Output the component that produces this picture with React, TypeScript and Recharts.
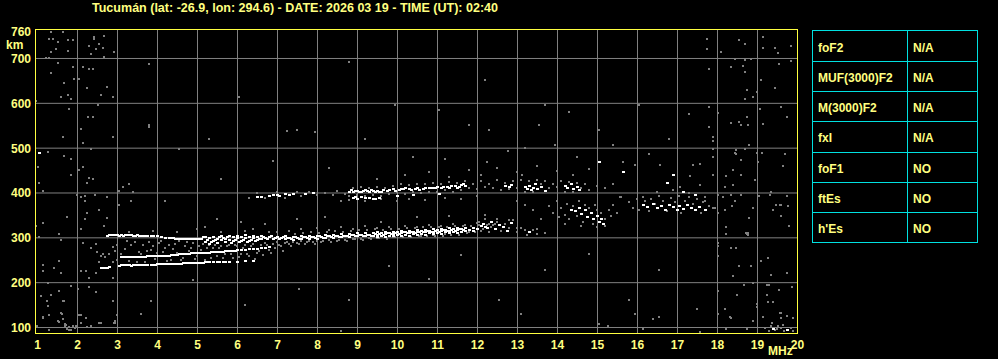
import { ScatterChart, Scatter, XAxis, YAxis, CartesianGrid } from 'recharts'

const title = 'Tucumán (lat: -26.9, lon: 294.6) - DATE: 2026 03 19 - TIME (UT): 02:40'
const freqTicks = [1, 2, 3, 4, 5, 6, 7, 8, 9, 10, 11, 12, 13, 14, 15, 16, 17, 18, 19, 20]
const gridFreqs = [2, 3, 4, 5, 6, 7, 8, 9, 10, 11, 12, 13, 14, 15, 16, 17, 18, 19]
const heightTicks = [100, 200, 300, 400, 500, 600, 700, 760]
const gridHeights = [100, 200, 300, 400, 500, 600, 700]

const paramNames = ['foF2', 'MUF(3000)F2', 'M(3000)F2', 'fxI', 'foF1', 'ftEs', "h'Es"]
const paramValues = ['N/A', 'N/A', 'N/A', 'N/A', 'NO', 'NO', 'NO']

// strong echoes (white), [MHz, km]
const lowBands: number[][] = [
  [2.6, 231], [2.65, 231], [2.7, 231], [2.75, 232], [2.8, 233], [3.05, 237], [3.1, 238], [3.15, 238], [3.2, 238],
  [3.25, 238], [3.3, 238], [3.35, 237], [3.4, 238], [3.45, 238], [3.5, 238], [3.55, 238], [3.6, 238], [3.65, 239],
  [3.7, 239], [3.75, 239], [3.85, 239], [3.9, 239], [3.95, 239], [4.0, 240], [4.05, 240], [4.1, 240], [4.15, 240],
  [4.2, 240], [4.25, 240], [4.3, 241], [4.35, 241], [4.4, 240], [4.45, 241], [4.5, 241], [4.55, 241], [4.6, 241],
  [4.65, 242], [4.7, 242], [4.75, 242], [4.8, 242], [4.85, 242], [4.9, 243], [4.95, 243], [5.0, 243], [5.05, 243],
  [5.1, 243], [5.15, 243], [5.2, 244], [5.25, 244], [5.3, 244], [5.4, 244], [5.5, 245], [5.55, 245], [5.65, 245],
  [5.7, 246], [5.8, 246], [6.0, 246], [6.2, 247], [6.4, 248],
  [3.1, 256], [3.15, 256], [3.2, 256], [3.25, 256], [3.3, 257], [3.35, 256], [3.4, 256], [3.45, 257], [3.5, 257],
  [3.55, 256], [3.6, 257], [3.65, 256], [3.7, 257], [3.75, 258], [3.8, 258], [3.85, 258], [3.9, 258], [3.95, 258],
  [4.0, 258], [4.05, 259], [4.1, 259], [4.15, 259], [4.2, 259], [4.25, 259], [4.3, 259], [4.35, 260], [4.4, 260],
  [4.45, 261], [4.5, 261], [4.55, 262], [4.6, 262], [4.65, 262], [4.7, 263], [4.75, 263], [4.8, 263], [4.85, 264],
  [4.9, 264], [4.95, 264], [5.0, 265], [5.05, 265], [5.1, 265], [5.15, 266], [5.2, 266], [5.25, 266], [5.3, 266],
  [5.35, 267], [5.4, 267], [5.45, 267], [5.5, 268], [5.55, 268], [5.6, 268], [5.65, 268], [5.7, 269], [5.75, 269],
  [5.8, 269], [5.85, 270], [5.9, 270], [5.95, 270], [6.0, 271], [6.1, 271], [6.2, 272], [6.3, 273], [6.4, 274],
  [6.5, 275], [6.6, 276], [6.7, 277], [6.8, 279],
  [2.75, 304], [2.8, 305], [2.85, 305], [2.9, 305], [2.95, 305], [3.0, 305], [3.05, 304], [3.1, 305], [3.15, 304],
  [3.2, 305], [3.25, 305], [3.3, 305], [3.35, 305], [3.4, 304], [3.45, 304], [3.5, 305], [3.55, 304], [3.6, 304],
  [3.65, 304], [3.7, 303], [3.75, 303], [3.85, 303], [3.9, 302], [4.0, 302], [4.1, 300], [4.2, 299], [4.3, 298],
  [4.35, 298], [4.4, 298], [4.45, 297], [4.5, 297], [4.55, 297], [4.6, 297], [4.65, 297], [4.7, 296], [4.75, 296],
  [4.8, 296], [4.85, 297], [4.9, 296], [4.95, 296], [5.0, 296], [5.05, 296], [5.1, 296], [5.15, 300],
  [5.2, 300], [5.2, 290], [5.25, 294], [5.3, 298], [5.3, 286], [5.35, 290], [5.4, 300], [5.4, 292], [5.45, 295],
  [5.5, 288], [5.5, 296], [5.55, 300], [5.6, 294], [5.6, 302], [5.65, 298], [5.7, 290], [5.7, 296], [5.75, 300],
  [5.8, 295], [5.8, 302], [5.85, 288], [5.9, 300], [5.9, 292], [5.95, 294], [6.0, 298], [6.0, 304], [6.05, 290],
  [6.1, 301], [6.1, 292], [6.15, 295], [6.2, 299], [6.2, 305], [6.25, 289], [6.3, 300], [6.3, 292], [6.35, 294],
  [6.4, 298], [6.4, 304], [6.45, 292], [6.5, 300], [6.5, 294], [6.55, 296], [6.6, 302], [6.6, 296], [6.65, 300],
  [6.7, 298], [6.75, 296], [6.8, 300], [6.85, 302], [6.9, 296], [6.95, 299], [7.0, 301], [7.05, 296], [7.1, 298],
  [7.15, 300],
]

const mainBand: number[][] = [
  [7.2, 296], [7.2, 302], [7.25, 299], [7.3, 298], [7.35, 297], [7.4, 294], [7.4, 301], [7.45, 300], [7.5, 299],
  [7.55, 297], [7.6, 296], [7.6, 303], [7.65, 301], [7.7, 300], [7.75, 298], [7.8, 297], [7.8, 303], [7.85, 301],
  [7.9, 300], [7.95, 299], [8.0, 297], [8.0, 304], [8.05, 302], [8.1, 301], [8.15, 299], [8.2, 298], [8.2, 305],
  [8.25, 302], [8.3, 302], [8.35, 300], [8.4, 299], [8.4, 306], [8.45, 303], [8.5, 303], [8.55, 301], [8.6, 300],
  [8.6, 307], [8.65, 304], [8.7, 304], [8.75, 302], [8.8, 301], [8.8, 308], [8.85, 305], [8.9, 305], [8.95, 303],
  [9.0, 302], [9.0, 309], [9.05, 306], [9.1, 305], [9.15, 303], [9.2, 302], [9.2, 309], [9.25, 306], [9.3, 306],
  [9.35, 304], [9.4, 303], [9.4, 310], [9.45, 307],
  [9.5, 300], [9.5, 306], [9.5, 311], [9.55, 308], [9.6, 304], [9.6, 309], [9.65, 306], [9.7, 301], [9.7, 307],
  [9.7, 312], [9.75, 309], [9.8, 304], [9.8, 310], [9.85, 307], [9.9, 302], [9.9, 308], [9.9, 313], [9.95, 310],
  [10.0, 305], [10.0, 311], [10.05, 308], [10.1, 303], [10.1, 309], [10.1, 314], [10.15, 311], [10.2, 306],
  [10.2, 312], [10.25, 309], [10.3, 304], [10.3, 310], [10.3, 315], [10.35, 312], [10.4, 307], [10.4, 313],
  [10.45, 310], [10.5, 305], [10.5, 311], [10.5, 316], [10.55, 313], [10.6, 308], [10.6, 314], [10.65, 311],
  [10.7, 306], [10.7, 312], [10.7, 317], [10.75, 314], [10.8, 309], [10.8, 315], [10.85, 312], [10.9, 307],
  [10.9, 313], [10.9, 318], [10.95, 315], [11.0, 310], [11.0, 316], [11.05, 313], [11.1, 308], [11.1, 314],
  [11.1, 319], [11.15, 316], [11.2, 311], [11.2, 317], [11.25, 314], [11.3, 309], [11.3, 315], [11.3, 320],
  [11.35, 317], [11.4, 312], [11.4, 318], [11.45, 315], [11.5, 310], [11.5, 316], [11.5, 321], [11.55, 318],
  [11.6, 313], [11.6, 319], [11.65, 316], [11.7, 314], [11.7, 320], [11.8, 317], [11.9, 315], [11.9, 321],
  [12.0, 319], [12.2, 322],
]

const upperTrace: number[][] = [
  [6.5, 390], [6.6, 390], [6.8, 393], [6.9, 395], [7.0, 394], [7.05, 392], [7.2, 396], [7.3, 395], [7.4, 397],
  [7.7, 397], [7.9, 398],
  [8.8, 402], [8.85, 405], [8.9, 401], [8.95, 403], [9.0, 404], [9.05, 400], [9.1, 401], [9.15, 403], [9.2, 406],
  [9.25, 404], [9.3, 402], [9.35, 405], [9.4, 403], [9.45, 401], [9.5, 404], [9.55, 402], [9.6, 400], [9.65, 405],
  [8.9, 388], [8.95, 390], [9.0, 386], [9.1, 389], [9.2, 388], [9.3, 387], [9.4, 385], [9.45, 386], [9.55, 388],
  [9.75, 404], [9.8, 406], [9.9, 407], [9.95, 404], [10.05, 405], [10.1, 407], [10.15, 408], [10.2, 409],
  [10.3, 407], [10.35, 405], [10.45, 408], [10.5, 410], [10.55, 406], [10.65, 408], [10.7, 410], [10.8, 411],
  [10.85, 409], [10.9, 409], [10.95, 411], [11.0, 412], [11.1, 410], [11.15, 412], [11.25, 413], [11.3, 411],
  [11.35, 415], [11.45, 414], [11.5, 411], [11.55, 413], [11.6, 416], [11.65, 418], [11.7, 415],
  [10.0, 392], [10.4, 395], [11.05, 396],
  [12.7, 415], [12.8, 413], [12.85, 417], [13.2, 412], [13.25, 408], [13.3, 415], [13.35, 405], [13.4, 410],
  [13.45, 420], [13.5, 407], [13.6, 413], [13.7, 404], [14.2, 415], [14.25, 410], [14.35, 418], [14.4, 408],
  [14.5, 413], [14.55, 405],
]

const strongClusters: number[][] = [
  [14.35, 362], [14.45, 358], [14.55, 366], [14.6, 352], [14.7, 360], [14.75, 345], [14.85, 355], [14.9, 340],
  [15.0, 348], [15.05, 335], [15.1, 342], [15.15, 330],
  [16.15, 372], [16.25, 368], [16.4, 375], [16.5, 365], [16.6, 370], [16.7, 362], [16.8, 372], [16.9, 367],
  [17.0, 360], [17.05, 370], [17.15, 364], [17.25, 372], [17.35, 366], [17.45, 360], [17.55, 368], [17.7, 362],
  [12.1, 325], [12.15, 330], [12.25, 320], [12.35, 335], [12.45, 318], [12.55, 328], [12.65, 322], [12.75, 315],
  [12.85, 332], [13.3, 312],
  [1.05, 487], [15.05, 469], [15.65, 445], [16.9, 440], [17.15, 402], [17.45, 395], [16.75, 422], [17.7, 360],
  [19.75, 93], [19.4, 95],
]

// weak echoes (grey)
const weakEchoes: number[][] = [
  [2.5, 268], [2.65, 262], [2.9, 246], [2.95, 270], [3.0, 283], [3.2, 275], [3.3, 248], [3.45, 290], [3.55, 268],
  [3.7, 246], [3.8, 290], [3.85, 272], [3.95, 252], [4.1, 292], [4.15, 268], [4.25, 248], [4.3, 282], [4.4, 275],
  [4.55, 292], [4.6, 250], [4.7, 280], [4.8, 270], [4.9, 288], [4.95, 252], [5.05, 280], [5.1, 272], [5.2, 250],
  [5.3, 282], [5.4, 276], [5.5, 258], [5.6, 280], [5.7, 262], [5.8, 283], [5.9, 255], [6.0, 280], [6.1, 262],
  [6.2, 283], [6.3, 258], [6.4, 285], [6.5, 265], [6.6, 282], [6.7, 288], [6.8, 272], [6.9, 285], [7.0, 290],
  [7.1, 280], [7.2, 288], [7.3, 285], [7.4, 290], [7.5, 288], [7.6, 291], [7.7, 285], [7.8, 292], [7.9, 289],
  [8.0, 292], [8.1, 289], [8.3, 293], [8.5, 292], [8.7, 295], [8.9, 296], [9.1, 297], [9.3, 298], [9.5, 299],
  [9.7, 300], [9.9, 300], [10.1, 302], [10.3, 303], [10.6, 304], [10.9, 305], [11.2, 307], [11.5, 309],
  [11.8, 312], [12.1, 315],
  [2.55, 244], [2.7, 256], [2.8, 262], [3.0, 250], [3.1, 262], [3.25, 292], [3.35, 282], [3.5, 246], [3.6, 262],
  [3.65, 284], [3.75, 270], [3.9, 280], [4.0, 264], [4.05, 288], [4.2, 276], [4.35, 250], [4.45, 286], [4.5, 266],
  [4.65, 254], [4.75, 290], [4.85, 276], [5.0, 258], [5.15, 286], [5.25, 276], [5.35, 254], [5.45, 284],
  [5.55, 276], [5.65, 254], [5.75, 280], [5.85, 262], [5.95, 284], [6.05, 257], [6.15, 276], [6.25, 262],
  [6.35, 280], [6.45, 252], [6.55, 270], [6.65, 260], [6.75, 284], [6.85, 266], [6.95, 276], [7.05, 284],
  [7.15, 270], [7.25, 290], [7.35, 280], [7.45, 308], [7.55, 286], [7.65, 310], [7.75, 290], [7.85, 312],
  [7.95, 286], [8.05, 310], [8.15, 292], [8.25, 312], [8.35, 290], [8.45, 314], [8.55, 294], [8.65, 312],
  [8.75, 292], [8.85, 315], [8.95, 296], [9.05, 316], [9.15, 294], [9.25, 317], [9.35, 296], [9.45, 318],
  [9.55, 298], [9.65, 316], [9.75, 296], [9.85, 318], [9.95, 300], [10.05, 318], [10.15, 300], [10.25, 320],
  [10.35, 300], [10.45, 321], [10.55, 302], [10.65, 322], [10.75, 302], [10.85, 322], [10.95, 304], [11.05, 323],
  [11.15, 304], [11.25, 324], [11.35, 306], [11.45, 325], [11.55, 306], [11.65, 326], [11.75, 310], [11.85, 326],
  [11.95, 312], [12.05, 327], [12.15, 318], [12.25, 327], [12.35, 322], [12.45, 330],
  [3.3, 312], [3.9, 315], [4.5, 312], [5.0, 318], [5.6, 312], [6.2, 315], [6.8, 312],
  [7.0, 312], [7.3, 315], [7.6, 318], [8.0, 320], [8.3, 316], [8.6, 322], [8.9, 318], [9.2, 325], [9.5, 320],
  [9.8, 322], [10.2, 325], [10.5, 323], [10.8, 328], [11.1, 326], [11.4, 330], [11.7, 328], [12.0, 333],
  [12.3, 330], [12.5, 335], [12.8, 338], [13.0, 320], [13.2, 316], [13.5, 318], [13.7, 310],
  [5.2, 322], [5.5, 340], [6.1, 335], [6.4, 318], [6.7, 330], [7.5, 340], [8.2, 345], [9.6, 335], [10.5, 345],
  [11.3, 348], [12.2, 350],
  [6.3, 388], [6.5, 398], [6.7, 388], [7.0, 400], [7.2, 388], [7.5, 400], [7.6, 392], [7.8, 402], [8.0, 394],
  [8.2, 399], [8.4, 395], [8.5, 403], [8.7, 396], [8.8, 393], [8.9, 410], [9.0, 395], [9.1, 412], [9.2, 393],
  [9.3, 410], [9.4, 395], [9.5, 413], [9.6, 392], [9.7, 410], [9.8, 396], [9.9, 415], [10.0, 400], [10.1, 418],
  [10.2, 396], [10.3, 416], [10.4, 402], [10.5, 420], [10.6, 398], [10.7, 418], [10.8, 402], [10.9, 422],
  [11.0, 400], [11.1, 420], [11.2, 405], [11.3, 423], [11.4, 402], [11.5, 421], [11.6, 405], [11.7, 425],
  [11.8, 410], [11.9, 420], [12.0, 408], [12.1, 425], [12.2, 412], [12.3, 420], [12.4, 410], [12.5, 428],
  [12.6, 405], [12.7, 422], [12.8, 408], [12.9, 425], [13.0, 410], [13.1, 428], [13.2, 402], [13.3, 425],
  [13.4, 400], [13.5, 428], [13.6, 418], [13.7, 425], [13.8, 410], [13.9, 420], [14.0, 412], [14.1, 425],
  [14.2, 402], [14.3, 424], [14.4, 400], [14.5, 422], [14.6, 410], [14.7, 418], [14.8, 405], [15.0, 415],
  [15.2, 410], [15.4, 418],
  [8.6, 380], [8.8, 384], [9.2, 382], [9.6, 385], [10.0, 380], [10.3, 386], [10.7, 383], [11.2, 388], [11.6, 385],
  [12.0, 392], [9.5, 430], [10.2, 438], [10.8, 445], [11.3, 435], [11.8, 450], [12.1, 440], [12.5, 455],
  [13.0, 445], [13.5, 460], [14.0, 448], [14.4, 438], [14.8, 452],
  [13.8, 370], [13.9, 355], [14.0, 380], [14.05, 345], [14.1, 365], [14.2, 350], [14.25, 375], [14.3, 340],
  [14.4, 370], [14.5, 348], [14.55, 380], [14.65, 335], [14.7, 372], [14.8, 365], [14.9, 330], [14.95, 372],
  [15.0, 360], [15.1, 355], [15.2, 340], [15.3, 360], [15.35, 348], [15.4, 373], [15.5, 355], [15.6, 389],
  [15.2, 325], [15.0, 322], [14.6, 325], [14.2, 330], [13.6, 340], [13.4, 360], [13.2, 372], [13.0, 380],
  [15.8, 378], [15.9, 365], [16.0, 385], [16.05, 360], [16.15, 390], [16.2, 380], [16.3, 358], [16.35, 385],
  [16.45, 375], [16.55, 392], [16.65, 380], [16.75, 358], [16.85, 388], [16.95, 378], [17.05, 392], [17.1, 355],
  [17.2, 382], [17.3, 390], [17.4, 375], [17.5, 385], [17.6, 355], [17.65, 378], [17.8, 370], [17.9, 365],
  [16.5, 400], [16.9, 405], [17.3, 398],
  [12.0, 318], [12.05, 335], [12.2, 342], [12.3, 312], [12.4, 328], [12.5, 340], [12.6, 315], [12.7, 330],
  [12.8, 320], [12.9, 338], [13.0, 312], [13.1, 320], [13.25, 305], [13.4, 316], [13.5, 308],
]

const noise: number[][] = [
  [1.35, 757], [1.65, 757], [1.3, 742], [1.4, 742], [1.53, 736], [1.78, 740], [1.9, 740], [1.48, 720], [1.35, 713],
  [1.78, 715], [2.43, 742], [2.43, 747], [2.68, 750], [2.3, 727], [2.55, 731], [2.48, 720], [2.65, 722], [2.93, 713],
  [2.35, 709], [2.68, 702], [1.23, 700], [1.3, 700], [1.53, 689], [1.9, 680], [2.15, 680], [2.3, 675], [2.4, 675],
  [1.35, 666], [1.93, 653], [2.05, 653], [1.68, 644], [2.25, 633], [2.75, 635], [1.6, 613], [1.78, 617], [1.85, 608],
  [2.6, 617], [2.9, 613], [0.98, 604], [2.53, 595], [1.8, 586], [2.28, 568], [2.4, 568], [2.1, 541], [1.65, 523],
  [2.9, 523], [2.15, 510], [2.35, 496], [1.28, 491], [1.68, 482], [1.85, 474], [1.03, 456], [2.05, 451],
  [2.15, 456], [1.85, 440], [2.3, 433], [2.4, 429], [2.25, 422], [1.05, 422], [3.3, 418], [3.15, 413], [1.15, 404],
  [3.05, 404], [3.4, 400], [2.0, 395], [2.1, 391], [2.2, 393], [2.45, 395], [2.75, 391], [2.2, 382], [3.35, 382],
  [3.05, 373], [2.55, 360], [2.25, 355], [1.75, 346], [2.2, 340], [2.75, 344], [1.15, 333], [0.98, 326], [2.1, 319],
  [2.68, 326], [1.55, 308], [1.05, 301], [1.6, 295], [2.15, 288], [2.48, 286], [2.35, 277], [2.9, 279], [2.6, 259],
  [1.15, 239], [1.15, 225], [1.55, 248], [1.43, 232], [1.6, 221], [2.1, 225], [2.23, 225], [2.48, 221], [2.3, 210],
  [2.9, 210], [1.28, 199], [1.85, 192], [1.55, 181], [2.03, 185], [2.3, 190], [2.48, 177], [1.1, 169], [1.35, 172],
  [2.9, 158], [1.68, 158], [1.28, 147], [1.6, 131], [2.05, 127], [1.15, 120], [1.53, 113], [2.23, 120], [1.73, 104],
  [1.9, 102], [1.98, 102], [2.93, 109], [2.55, 109], [1.3, 93], [1.8, 93],
  [1.25, 157], [1.65, 157], [2.9, 157], [3.85, 157], [1.15, 123], [1.3, 126], [1.6, 132], [1.63, 129], [1.55, 112],
  [1.65, 117], [1.7, 106], [1.7, 103], [2.1, 126], [2.1, 108], [2.35, 103], [2.6, 108], [2.95, 110], [2.95, 114],
  [3.0, 126], [3.6, 129], [1.3, 94], [1.75, 96], [1.8, 99], [1.85, 94], [1.9, 101], [1.95, 98], [2.0, 101],
  [2.25, 99], [8.6, 90], [1.0, 103],
  [17.75, 742], [17.75, 720], [18.1, 713], [18.55, 740], [18.7, 731], [19.15, 747], [19.15, 722], [19.45, 722],
  [19.53, 711], [19.85, 727], [18.45, 698], [18.7, 695], [18.85, 698], [17.8, 675], [18.35, 680], [18.65, 682],
  [18.7, 669], [19.1, 651], [19.55, 687], [19.85, 693], [18.75, 628], [19.45, 633], [18.9, 613], [18.7, 608],
  [19.0, 624], [17.8, 590], [19.08, 586], [19.6, 590], [18.03, 577], [18.75, 568], [19.75, 568], [18.35, 554],
  [18.55, 557], [18.6, 550], [18.78, 550], [19.15, 552], [17.8, 546], [17.9, 523], [17.9, 514], [18.8, 505],
  [17.9, 496], [18.48, 494], [18.48, 485], [18.7, 496], [19.13, 487], [19.7, 485], [17.58, 463], [18.6, 472],
  [19.03, 467], [19.65, 460], [18.4, 451], [17.9, 438], [18.23, 436], [18.6, 440], [18.95, 427], [17.58, 416],
  [18.2, 413], [18.4, 416], [19.35, 400], [18.03, 395], [18.35, 395], [18.6, 395], [17.7, 389], [17.7, 382],
  [18.15, 389], [18.45, 382], [19.05, 393], [19.75, 393], [17.95, 366], [18.2, 362], [18.38, 371], [18.9, 366],
  [19.4, 360], [19.48, 373], [19.6, 373], [19.6, 348], [19.78, 371], [18.03, 355], [18.8, 344], [18.23, 324],
  [19.8, 326], [18.73, 310], [18.78, 306], [18.78, 310], [18.23, 308], [18.03, 288], [18.03, 281], [18.48, 277],
  [18.35, 277], [18.03, 259], [19.1, 248], [19.28, 254], [18.55, 237], [18.85, 237], [18.4, 214], [19.35, 216],
  [19.75, 221], [18.03, 181], [18.68, 194], [18.9, 199], [19.25, 194], [19.3, 194], [19.88, 190], [19.55, 183],
  [18.5, 172], [19.25, 172], [19.0, 151], [19.28, 156], [19.4, 156], [19.6, 131], [19.6, 120], [18.03, 129],
  [18.35, 120], [18.9, 113], [19.15, 122], [19.38, 109], [19.53, 102], [19.75, 125],
  [15.95, 129], [16.4, 118], [16.55, 122], [17.5, 140], [16.15, 95], [15.28, 102], [18.2, 140], [18.33, 122],
  [19.0, 145], [19.58, 131], [19.9, 120], [17.58, 89], [18.23, 95], [18.75, 95], [19.2, 97], [19.3, 90],
  [19.35, 102], [19.45, 93], [19.5, 95], [19.6, 97], [19.65, 104], [19.68, 92], [19.85, 97], [19.9, 90],
  [7.24, 538], [7.51, 540], [7.96, 534], [6.06, 614], [9.94, 596], [8.81, 690], [11.06, 585], [11.19, 474],
  [11.81, 551], [12.31, 540], [12.19, 652], [13.56, 551], [13.69, 596], [13.94, 507], [15.06, 540], [16.06, 596],
  [16.31, 485], [17.31, 574], [4.56, 496], [3.81, 551], [3.81, 545], [3.81, 686], [7.56, 184], [8.81, 161],
  [10.81, 206], [12.56, 161], [13.69, 228], [14.81, 262], [15.81, 161], [16.56, 228], [15.06, 106],
  [12.25, 469], [12.78, 492], [13.13, 438], [14.5, 480], [15.65, 467], [15.95, 462], [16.58, 462], [17.4, 462],
  [17.9, 480], [18.45, 489], [19.0, 489], [19.7, 485], [17.08, 413], [17.33, 436], [15.58, 389], [15.4, 373],
  [19.33, 395], [19.58, 373], [19.4, 360], [18.75, 308],
  [5.3, 520], [6.9, 470], [8.3, 455], [9.2, 520], [10.4, 480], [13.2, 500], [14.3, 580], [15.4, 505],
  [16.8, 520], [4.2, 380], [5.6, 430], [4.9, 205], [6.2, 150], [9.8, 235], [11.6, 260], [13.1, 130],
]

const toPts = (rows: number[][]) => rows.map(([f, h]) => ({ f, h }))

const makeDot = (color: string, w: number) => (props: any) => {
  const { cx, cy } = props
  if (cx == null || cy == null) return <g />
  return <rect x={Math.floor(cx) - 1} y={Math.floor(cy) - 1} width={w} height={2} fill={color} />
}

const YELLOW = '#ffff80'
const CYAN = '#00e0e0'
const FONT = '"Liberation Sans", Arial, sans-serif'

const FreqTick = (props: any) => {
  const { x, payload } = props
  return (
    <text x={x} y={349} textAnchor="middle" fill={YELLOW} fontFamily={FONT} fontSize={12} fontWeight="bold">
      {payload.value}
    </text>
  )
}

const HeightTick = (props: any) => {
  const { y, payload } = props
  return (
    <text x={31} y={y + 4.5} textAnchor="end" fill={YELLOW} fontFamily={FONT} fontSize={12} fontWeight="bold">
      {payload.value}
    </text>
  )
}

const ROW_TOP = 30.5
const ROW_H = 30.3

export default function App() {
  const grey = makeDot('#808080', 2)
  const white = makeDot('#ffffff', 3)
  return (
    <div style={{ position: 'absolute', left: 0, top: 0, width: 998, height: 359, background: '#000', overflow: 'hidden' }}>
      <ScatterChart width={998} height={359} margin={{ top: 29.5, right: 200.5, bottom: 0, left: 0.5 }}>
        <CartesianGrid stroke="#808080" strokeWidth={1} horizontalValues={gridHeights} verticalValues={gridFreqs} />
        <XAxis
          type="number"
          dataKey="f"
          domain={[0.95, 20]}
          ticks={freqTicks}
          interval={0}
          height={25.5}
          axisLine={false}
          tickLine={false}
          allowDataOverflow
          tick={<FreqTick />}
        />
        <YAxis
          type="number"
          dataKey="h"
          domain={[86.62, 764.68]}
          ticks={heightTicks}
          interval={0}
          width={35}
          axisLine={false}
          tickLine={false}
          allowDataOverflow
          tick={<HeightTick />}
        />
        <Scatter data={toPts(noise)} shape={grey} isAnimationActive={false} />
        <Scatter data={toPts(weakEchoes)} shape={grey} isAnimationActive={false} />
        <Scatter data={toPts(lowBands)} shape={white} isAnimationActive={false} />
        <Scatter data={toPts(mainBand)} shape={white} isAnimationActive={false} />
        <Scatter data={toPts(upperTrace)} shape={white} isAnimationActive={false} />
        <Scatter data={toPts(strongClusters)} shape={white} isAnimationActive={false} />
      </ScatterChart>
      <svg width={998} height={359} style={{ position: 'absolute', left: 0, top: 0, pointerEvents: 'none' }}>
        <text x={92} y={12} fill={YELLOW} fontFamily={FONT} fontSize={12} fontWeight="bold" textLength={406} lengthAdjust="spacingAndGlyphs">
          {title}
        </text>
        <text x={6} y={49} fill={YELLOW} fontFamily={FONT} fontSize={12} fontWeight="bold">km</text>
        <text x={768} y={355} fill={YELLOW} fontFamily={FONT} fontSize={12} fontWeight="bold">MHz</text>
        <rect x={35.5} y={29.5} width={762} height={304} fill="none" stroke="#ffff40" strokeWidth={1} />
        <rect x={812.5} y={30.5} width={165} height={212} fill="none" stroke={CYAN} strokeWidth={1} />
        <line x1={907.5} y1={30.5} x2={907.5} y2={242.5} stroke={CYAN} />
        {paramNames.map((name, i) => {
          const top = Math.round(ROW_TOP + i * ROW_H) + 0.5
          return (
            <g key={name}>
              {i > 0 && <line x1={812.5} y1={top} x2={977.5} y2={top} stroke={CYAN} />}
              <text x={818} y={top + 20.5} fill={YELLOW} fontFamily={FONT} fontSize={12} fontWeight="bold">{name}</text>
              <text x={913} y={top + 20.5} fill={YELLOW} fontFamily={FONT} fontSize={12} fontWeight="bold">{paramValues[i]}</text>
            </g>
          )
        })}
      </svg>
    </div>
  )
}
